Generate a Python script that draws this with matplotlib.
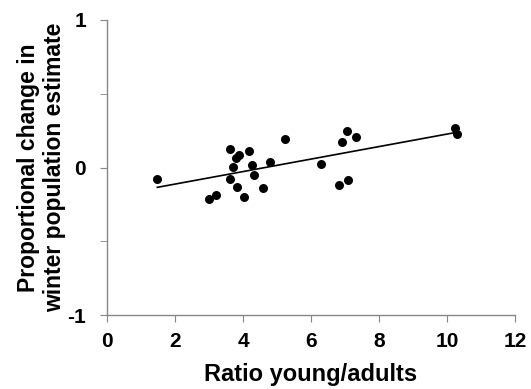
import numpy as np
import matplotlib.pyplot as plt
from matplotlib.ticker import MultipleLocator

ratio = [1.48, 3.01, 3.21, 3.61, 3.61, 3.70, 3.82, 3.79, 3.89, 4.04, 4.19, 4.27,
         4.33, 4.60, 4.78, 5.24, 6.30, 6.82, 6.92, 7.05, 7.10, 7.33, 10.23, 10.29]
change = [-0.077, -0.215, -0.183, 0.127, -0.077, 0.002, -0.133, 0.066, 0.086, -0.201,
          0.113, 0.018, -0.050, -0.138, 0.036, 0.192, 0.027, -0.120, 0.174, 0.249,
          -0.086, 0.208, 0.271, 0.224]

plt.rcParams['font.family'] = ['Liberation Sans', 'DejaVu Sans']
plt.rcParams['font.weight'] = 'bold'
plt.rcParams['axes.unicode_minus'] = False

fig = plt.figure(figsize=(5.31, 3.89), dpi=100)
ax = fig.add_axes([0.2015, 0.19, 0.7685, 0.7586])

ax.scatter(ratio, change, s=42, color='black', zorder=3, linewidths=0)

slope, icpt = np.polyfit(ratio, change, 1)
xs = np.array([min(ratio), max(ratio)])
ax.plot(xs, slope * xs + icpt, color='black', lw=1.2)

ax.set_xlim(0, 12)
ax.set_ylim(-1, 1)
ax.set_xticks(range(0, 13, 2))
ax.set_yticks([-1, 0, 1])
ax.yaxis.set_minor_locator(MultipleLocator(0.5))

for s in ['top', 'right']:
    ax.spines[s].set_visible(False)
for s in ['left', 'bottom']:
    ax.spines[s].set_color('#868686')
    ax.spines[s].set_linewidth(1.0)

ax.tick_params(axis='both', which='both', color='#868686', direction='out', length=5)
ax.tick_params(axis='x', labelsize=15, pad=7)
ax.tick_params(axis='y', which='major', labelsize=15, pad=10)

ax.set_xlabel('Ratio young/adults', fontsize=17, fontweight='bold', labelpad=9)
ax.set_ylabel('Proportional change in\nwinter population estimate', fontsize=16.5,
              fontweight='bold', labelpad=1, linespacing=1.15)

fig.savefig('out.png', dpi=100)
